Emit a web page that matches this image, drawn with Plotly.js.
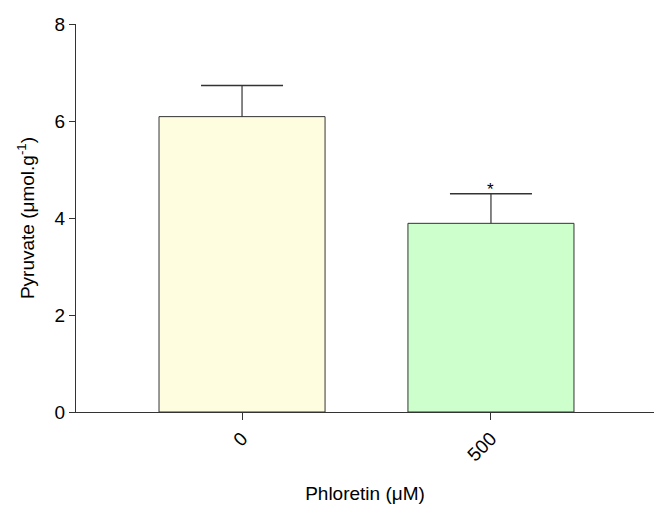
<!DOCTYPE html>
<html>
<head>
<meta charset="utf-8">
<script src="https://cdn.plot.ly/plotly-3.0.1.min.js"></script>
<style>html,body{margin:0;padding:0;background:#fff;}#chart{width:654px;height:512px;}</style>
</head>
<body>
<div id="chart"></div>
<script>
const categories = ["0", "500"];
const means = [6.09, 3.89];
const sem = [0.64, 0.61];
const barColors = ["#FFFDE0", "#CCFFCC"];
const sigLabels = ["", "*"];

const tops = means.map((m, i) => m + sem[i]);

const bars = {
  type: "bar", x: categories, y: means, width: 0.667,
  marker: {color: barColors, line: {color: "#333333", width: 1}},
  hoverinfo: "skip"
};
// vertical stem of the upper error bar (no caps)
const stems = {
  type: "scatter", mode: "markers", x: categories, y: tops,
  marker: {size: 1, opacity: 0},
  error_y: {type: "data", symmetric: false, array: [0, 0], arrayminus: sem, color: "#333333", thickness: 1.2, width: 0},
  hoverinfo: "skip"
};
// cap at the top only
const caps = {
  type: "scatter", mode: "markers", x: categories, y: tops,
  marker: {size: 1, opacity: 0},
  error_y: {type: "data", array: [0, 0], color: "#333333", thickness: 1.5, width: 41},
  hoverinfo: "skip"
};

// category index used as annotation x (numeric-looking names would be read as indices)
const annotations = categories.map((c, i) => ({
  x: i, y: tops[i], text: sigLabels[i], showarrow: false,
  yanchor: "bottom", yshift: -7, font: {family: "Liberation Sans, Arial", size: 17, color: "#000"}
})).filter(a => a.text);

const layout = {
  width: 654, height: 512,
  margin: {l: 76, r: 0, t: 24, b: 100},
  paper_bgcolor: "#fff", plot_bgcolor: "#fff",
  showlegend: false,
  font: {family: "Liberation Sans, Arial, sans-serif", color: "#000"},
  xaxis: {
    type: "category", range: [-0.667, 1.655],
    showline: true, linecolor: "#333", linewidth: 1,
    ticks: "outside", ticklen: 7, tickcolor: "#333",
    tickangle: -45, tickfont: {size: 19},
    showgrid: false, zeroline: false,
    title: {text: "Phloretin (μM)", font: {size: 19}, standoff: 22}
  },
  yaxis: {
    range: [0, 8], tickvals: [0, 2, 4, 6, 8],
    showline: true, linecolor: "#333", linewidth: 1,
    ticks: "outside", ticklen: 6, tickcolor: "#333",
    tickfont: {size: 19},
    showgrid: false, zeroline: false,
    title: {text: "Pyruvate (μmol.g<sup>-1</sup>)", font: {size: 19}, standoff: 14}
  },
  annotations: annotations
};

Plotly.newPlot("chart", [bars, stems, caps], layout, {displayModeBar: false, staticPlot: true});
</script>
</body>
</html>
